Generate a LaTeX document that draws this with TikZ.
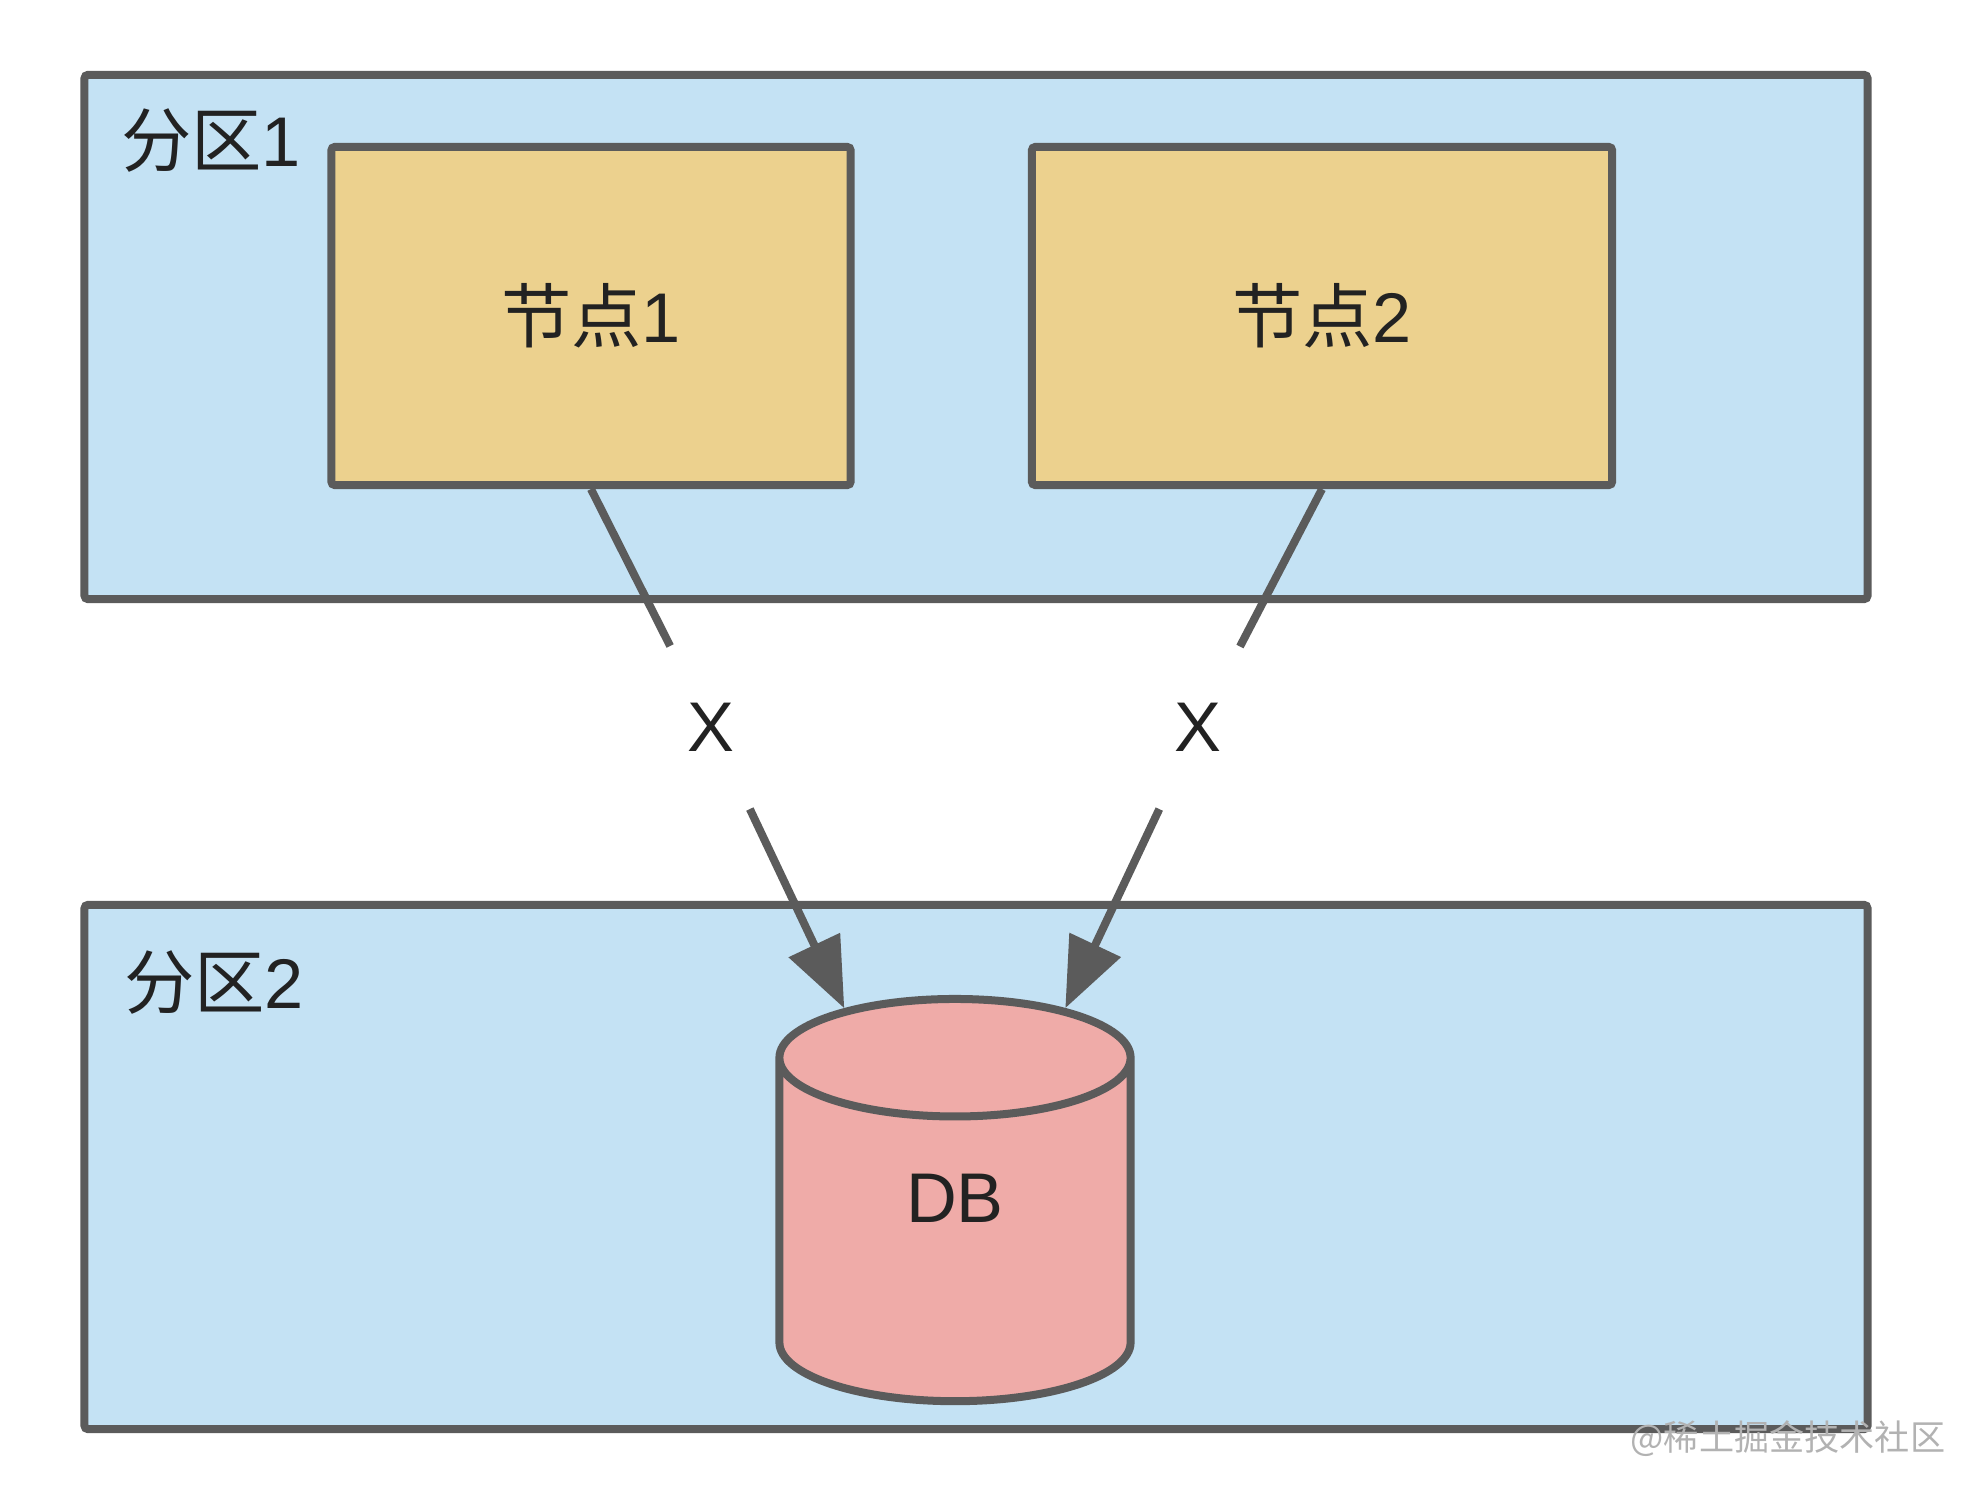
\documentclass[tikz,border=0pt]{standalone}
\usepackage{fontspec}
\setmainfont{Liberation Sans}
\newfontfamily\cjk{Noto Sans CJK SC}
\usepackage{tikz}
\usetikzlibrary{arrows.meta, shapes.geometric}

\definecolor{edgegray}{HTML}{5B5B5B}
\definecolor{zoneblue}{HTML}{C4E2F4}
\definecolor{hostyellow}{HTML}{ECD18E}
\definecolor{dbpink}{HTML}{EFABA8}
\definecolor{inkgray}{HTML}{222222}

\tikzset{
  zone/.style = {draw = edgegray, fill = zoneblue, line width = 0.08cm,
    minimum width = 17.82cm, minimum height = 5.24cm, rounded corners = 1pt},
  host/.style = {draw = edgegray, fill = hostyellow, line width = 0.08cm,
    minimum height = 3.38cm, rounded corners = 1pt,
    text = inkgray, font = \fontsize{20}{24}\selectfont},
  zonelabel/.style = {text = inkgray, font = \fontsize{20}{24}\selectfont},
  cut/.style = {circle, minimum size = 1.8cm, inner sep = 0pt,
    text = inkgray, font = \fontsize{20}{24}\selectfont},
  store/.style = {cylinder, shape border rotate = 90, aspect = 0.97,
    draw = edgegray, fill = dbpink, line width = 0.08cm,
    minimum width = 3.51cm, minimum height = 4.02cm, text depth = 0.88cm,
    text = inkgray, font = \fontsize{20}{24}\selectfont},
  link/.style = {draw = edgegray, line width = 0.08cm},
}

\begin{document}
\begin{tikzpicture}[x = 0.01cm, y = -0.01cm]
  \useasboundingbox (0, 0) rectangle (1988, 1500);

  % partitions
  \node[zone] at (976, 337) (p1) {};
  \node[zone] at (976, 1167) (p2) {};
  \node[zonelabel] at (211, 141) (p1label) {{\cjk 分区}1};
  \node[zonelabel] at (214, 983) (p2label) {{\cjk 分区}2};

  % nodes and database
  \node[host, minimum width = 5.19cm] at (591, 316) (n1) {{\cjk 节点}1};
  \node[host, minimum width = 5.80cm] at (1322, 316) (n2) {{\cjk 节点}2};
  \node[store] at (955, 1242) (db) {DB};

  % broken links
  \node[cut] at (711, 727) (x1) {X};
  \node[cut] at (1198, 727) (x2) {X};
  \draw[link] (n1.south) -- (x1);
  \draw[link] (n2.south) -- (x2);
  \draw[link, -{Triangle[length = 0.7cm, width = 0.55cm]}] (x1) -- (db);
  \draw[link, -{Triangle[length = 0.7cm, width = 0.55cm]}] (x2) -- (db);

  \node[text = black!30, font = \cjk\fontsize{10}{12}\selectfont] at (1788, 1439) (mark) {@稀土掘金技术社区};
\end{tikzpicture}
\end{document}
